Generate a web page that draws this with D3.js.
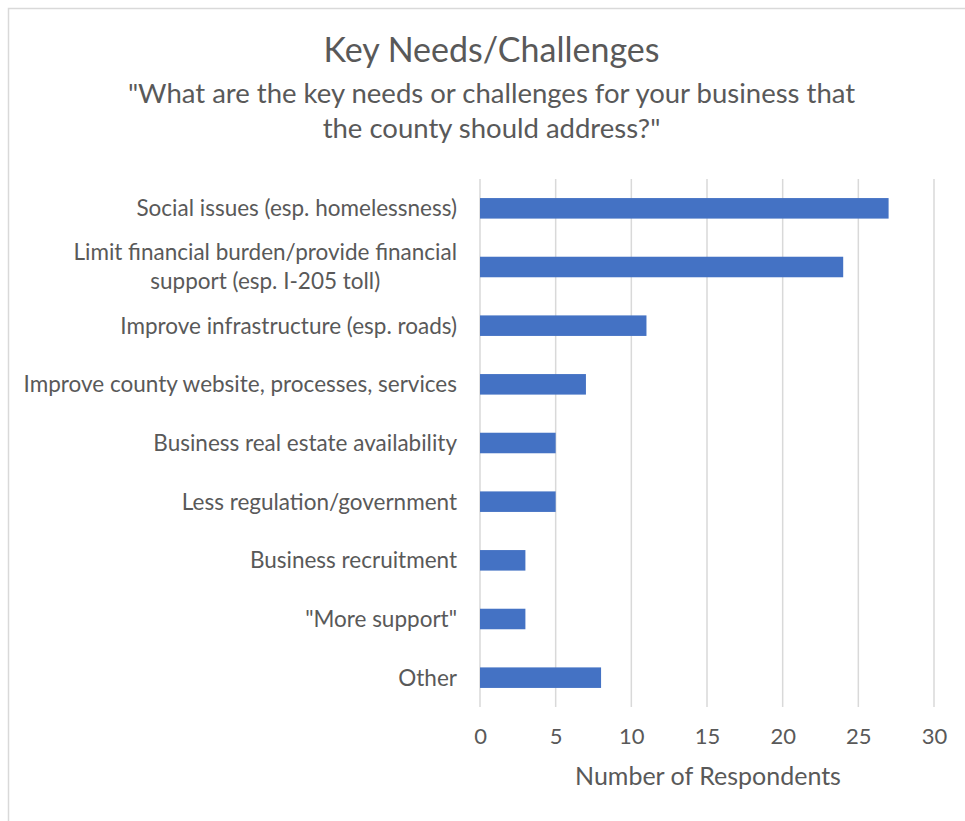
<!DOCTYPE html>
<html>
<head>
<meta charset="utf-8">
<script src="https://cdn.jsdelivr.net/npm/d3@7"></script>
<style>
  html, body { margin: 0; padding: 0; background: #fff; }
  svg { display: block; }
  text { font-family: Lato, "Open Sans", sans-serif; fill: #595959; }
</style>
</head>
<body>
<svg id="chart" width="965" height="821"></svg>
<script>
// Survey answers: category labels (line-broken) and respondent counts
const categories = [
  ["Social issues (esp. homelessness)"],
  ["Limit financial burden/provide financial", "support (esp. I-205 toll)"],
  ["Improve infrastructure (esp. roads)"],
  ["Improve county website, processes, services"],
  ["Business real estate availability"],
  ["Less regulation/government"],
  ["Business recruitment"],
  ["\"More support\""],
  ["Other"]
];
const counts = [27, 24, 11, 7, 5, 5, 3, 3, 8];
const xTicks = [0, 5, 10, 15, 20, 25, 30];

const titleText = "Key Needs/Challenges";
const subtitleLines = [
  "\"What are the key needs or challenges for your business that",
  "the county should address?\""
];
const xAxisTitle = "Number of Respondents";

const svg = d3.select("#chart");
const W = 965, H = 821;

// chart area frame
svg.append("rect")
  .attr("x", 8.5).attr("y", 8.5)
  .attr("width", 1200).attr("height", 1200)
  .attr("fill", "#fff")
  .attr("stroke", "#d9d9d9").attr("stroke-width", 1.5);

const plot = { left: 480, right: 934, top: 179, bottom: 707 };

const x = d3.scaleLinear().domain([0, 30]).range([plot.left, plot.right]);
const y = d3.scaleBand()
  .domain(categories.map((d, i) => i))
  .range([plot.top, plot.bottom])
  .paddingInner(0.65).paddingOuter(0.325);

// vertical gridlines
svg.append("g")
  .selectAll("line")
  .data(xTicks)
  .join("line")
  .attr("x1", d => x(d)).attr("x2", d => x(d))
  .attr("y1", plot.top).attr("y2", plot.bottom)
  .attr("stroke", "#d9d9d9").attr("stroke-width", 1.5);

// bars
svg.append("g")
  .selectAll("rect")
  .data(counts)
  .join("rect")
  .attr("x", x(0))
  .attr("y", (d, i) => y(i))
  .attr("width", d => x(d) - x(0))
  .attr("height", y.bandwidth())
  .attr("fill", "#4472c4");

// x axis tick labels
const xAxis = d3.axisBottom(x).tickValues(xTicks).tickSize(0).tickPadding(0);
const gx = svg.append("g")
  .attr("transform", `translate(0,${plot.bottom + 21})`)
  .call(xAxis);
gx.select(".domain").remove();
gx.selectAll("text")
  .attr("dy", "0.71em")
  .style("font-size", "22px")
  .style("fill", "#595959")
  .style("font-family", "Lato, 'Open Sans', sans-serif");

// category labels: right edge of each block at labelRight,
// lines of a wrapped label centred on one another
const labelSize = 22.5, lineH = 29, labelRight = 457;
const lab = svg.append("g").selectAll("text")
  .data(categories)
  .join("text")
  .style("font-size", labelSize + "px")
  .attr("transform", (d, i) => `translate(0,${y(i) + y.bandwidth() / 2})`);
lab.selectAll("tspan")
  .data(d => d.map((t, j) => ({ t, j, n: d.length })))
  .join("tspan")
  .attr("y", d => (d.j - (d.n - 1) / 2) * lineH)
  .attr("dy", "0.35em")
  .text(d => d.t);
lab.each(function () {
  const spans = d3.select(this).selectAll("tspan");
  let maxW = 0;
  spans.each(function () { maxW = Math.max(maxW, this.getComputedTextLength()); });
  d3.select(this).attr("text-anchor", "middle");
  spans.attr("x", labelRight - maxW / 2);
});

// titles
svg.append("text")
  .attr("x", W / 2 + 9).attr("y", 62)
  .attr("text-anchor", "middle")
  .style("font-size", "34px")
  .text(titleText);

svg.append("g").selectAll("text")
  .data(subtitleLines)
  .join("text")
  .attr("x", W / 2 + 9)
  .attr("y", (d, i) => 103 + i * 35)
  .attr("text-anchor", "middle")
  .style("font-size", "27.5px")
  .text(d => d);

svg.append("text")
  .attr("x", (plot.left + plot.right) / 2 + 1).attr("y", 785)
  .attr("text-anchor", "middle")
  .style("font-size", "25px")
  .text(xAxisTitle);
</script>
</body>
</html>
